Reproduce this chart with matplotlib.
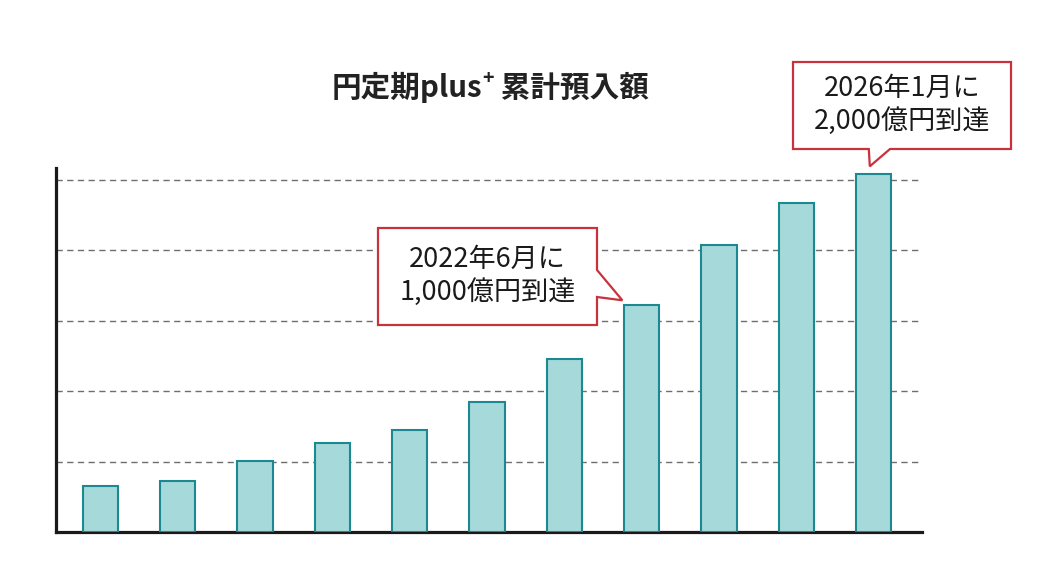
import matplotlib
matplotlib.use("Agg")
import matplotlib.pyplot as plt
from matplotlib.patches import Polygon

plt.rcParams['font.family'] = ['Noto Sans CJK JP', 'DejaVu Sans']

# ---- data (relative heights, in gridline units) ----
periods = list(range(11))
values = [0.66, 0.73, 1.01, 1.27, 1.45, 1.85, 2.46, 3.22, 4.08, 4.67, 5.08]
grid_levels = [1, 2, 3, 4, 5]
title_main = "円定期plus"
title_sup = "+"
title_rest = " 累計預入額"
callout1_lines = ["2022年6月に", "1,000億円到達"]
callout2_lines = ["2026年1月に", "2,000億円到達"]
callout1_bar = 7
callout2_bar = 10

W, H = 1037, 571
fig = plt.figure(figsize=(W / 100, H / 100), dpi=100)
fig.patch.set_facecolor("white")

def fx(x):
    return x / W

def fy(y):
    return 1 - y / H

ax = fig.add_axes([fx(56), fy(532), fx(922) - fx(56), fy(168) - fy(532)])
ax.bar(periods, values, width=0.457, color="#a6d9d9", edgecolor="#1c8892",
       linewidth=1.5, zorder=3)
ax.set_xlim(-0.574, 10.625)
ax.set_ylim(0, 5.17)
ax.set_yticks(grid_levels)
ax.set_xticks([])
ax.tick_params(axis="y", length=0, labelleft=False)
ax.yaxis.grid(True, color="#6e6e6e", linewidth=1.0, linestyle=(0, (4.5, 3.2)))
ax.set_axisbelow(True)
for s in ["top", "right"]:
    ax.spines[s].set_visible(False)
for s in ["left", "bottom"]:
    ax.spines[s].set_color("#1a1a1a")
    ax.spines[s].set_linewidth(2.3)
ax.set_facecolor("white")

# ---- title composed of pieces ----
fig.canvas.draw()
r = fig.canvas.get_renderer()
tsize = 21.3
t1 = fig.text(0, fy(97), title_main, fontsize=tsize, fontweight="bold",
              color="#222222", va="baseline", ha="left")
t2 = fig.text(0, fy(84), title_sup, fontsize=tsize * 0.66, fontweight="bold",
              color="#222222", va="baseline", ha="left")
t3 = fig.text(0, fy(97), title_rest, fontsize=tsize, fontweight="bold",
              color="#222222", va="baseline", ha="left")
w1 = t1.get_window_extent(r).width
w2 = t2.get_window_extent(r).width
w3 = t3.get_window_extent(r).width
total = w1 + w2 + w3
x0 = 490 - total / 2
t1.set_x(fx(x0))
t2.set_x(fx(x0 + w1))
t3.set_x(fx(x0 + w1 + w2))

# ---- callouts ----
red = "#c8323d"
csize = 19.5

def data_px(xd, yd):
    disp = ax.transData.transform((xd, yd))
    return disp[0], H - disp[1]

# callout 1: box with tail to the right, pointing to bar 8 top-left
bx0, by0, bx1, by1 = 378, 228, 597, 325
tipx, tipy = data_px(callout1_bar - 0.25, values[callout1_bar])
tipy -= 5
pts1 = [(bx0, by0), (bx1, by0), (bx1, 270), (tipx, tipy), (bx1, 297),
        (bx1, by1), (bx0, by1)]
fig.add_artist(Polygon([(fx(x), fy(y)) for x, y in pts1], closed=True,
                       transform=fig.transFigure, facecolor="white",
                       edgecolor=red, linewidth=1.6, zorder=5))
cx = (bx0 + bx1) / 2
fig.text(fx(cx), fy(259), callout1_lines[0], fontsize=csize, color="#1a1a1a",
         ha="center", va="center", zorder=6)
fig.text(fx(cx), fy(292), callout1_lines[1], fontsize=csize, color="#1a1a1a",
         ha="center", va="center", zorder=6)

# callout 2: box with tail at bottom, pointing to bar 11 top
bx0, by0, bx1, by1 = 793, 62, 1011, 149
tipx, tipy = data_px(callout2_bar - 0.05, values[callout2_bar])
tipy -= 8
pts2 = [(bx0, by0), (bx1, by0), (bx1, by1), (890, by1), (tipx, tipy),
        (tipx - 1, by1), (bx0, by1)]
fig.add_artist(Polygon([(fx(x), fy(y)) for x, y in pts2], closed=True,
                       transform=fig.transFigure, facecolor="white",
                       edgecolor=red, linewidth=1.6, zorder=5))
cx = (bx0 + bx1) / 2
fig.text(fx(cx), fy(88), callout2_lines[0], fontsize=csize, color="#1a1a1a",
         ha="center", va="center", zorder=6)
fig.text(fx(cx), fy(121), callout2_lines[1], fontsize=csize, color="#1a1a1a",
         ha="center", va="center", zorder=6)

fig.savefig("out.png", dpi=100, facecolor="white")
